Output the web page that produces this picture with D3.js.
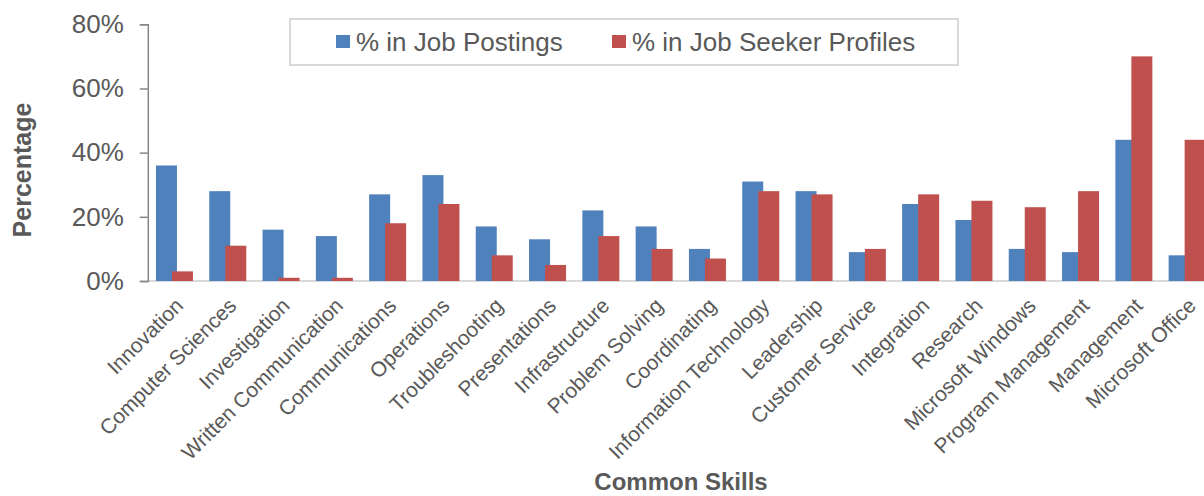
<!DOCTYPE html>
<html><head><meta charset="utf-8">
<script src="https://cdn.jsdelivr.net/npm/d3@7"></script>
<style>
html,body{margin:0;padding:0;background:#fff;}
svg{display:block;font-family:"Liberation Sans",Arial,sans-serif;}
</style></head>
<body><svg id="chart" width="1204" height="496"></svg>
<script>
const categories = ["Innovation","Computer Sciences","Investigation","Written Communication","Communications","Operations","Troubleshooting","Presentations","Infrastructure","Problem Solving","Coordinating","Information Technology","Leadership","Customer Service","Integration","Research","Microsoft Windows","Program Management","Management","Microsoft Office"];
const jobPostings = [36,28,16,14,27,33,17,13,22,17,10,31,28,9,24,19,10,9,44,8];
const jobSeekers  = [3,11,1,1,18,24,8,5,14,10,7,28,27,10,27,25,23,28,70,44];
const seriesNames = ["% in Job Postings","% in Job Seeker Profiles"];
const yTicks = [0,20,40,60,80];

const colors = ["#4F81BD","#C0504D"];
const textColor = "#595959";
const svg = d3.select("#chart");

const left = 147.8, step = 53.3;
const x = d3.scaleBand().domain(categories).range([left, left + step*categories.length]).padding(0);
const y = d3.scaleLinear().domain([0,80]).range([281,24.3]);

// baseline
svg.append("line").attr("x1",left).attr("x2",1204).attr("y1",y(0)).attr("y2",y(0))
  .attr("stroke","#D9D9D9").attr("stroke-width",2);

// bars
const barW = 21;
const g = svg.append("g");
categories.forEach((c,i)=>{
  const cx = x(c) + x.bandwidth()/2;
  g.append("rect").attr("x",cx-18.5).attr("width",barW)
    .attr("y",y(jobPostings[i])).attr("height",y(0)-y(jobPostings[i]))
    .attr("fill",colors[0]);
  g.append("rect").attr("x",cx-2.5).attr("width",barW)
    .attr("y",y(jobSeekers[i])).attr("height",y(0)-y(jobSeekers[i]))
    .attr("fill",colors[1]);
});

// y axis
const yAxis = d3.axisLeft(y).tickValues(yTicks).tickFormat(d=>d+"%").tickSize(8).tickPadding(16);
const ya = svg.append("g").attr("transform",`translate(${left},0)`).call(yAxis);
ya.select(".domain").attr("stroke","#868686").attr("stroke-width",1.5);
ya.selectAll(".tick line").attr("stroke","#868686").attr("stroke-width",1.5);
ya.selectAll(".tick text").attr("fill",textColor).attr("font-size",26)
  .attr("font-family","Liberation Sans, Arial, sans-serif");

// x labels
categories.forEach(c=>{
  const cx = x(c) + x.bandwidth()/2;
  svg.append("text").attr("transform",`translate(${cx+10},307) rotate(-45)`)
    .attr("text-anchor","end").attr("font-size",21).attr("fill",textColor).text(c);
});

// axis titles
svg.append("text").attr("transform","translate(31,170) rotate(-90)").attr("text-anchor","middle")
  .attr("font-size",25).attr("font-weight","bold").attr("fill",textColor).text("Percentage");
svg.append("text").attr("x",681).attr("y",490).attr("text-anchor","middle")
  .attr("font-size",24).attr("font-weight","bold").attr("fill",textColor).text("Common Skills");

// legend
svg.append("rect").attr("x",290).attr("y",19).attr("width",668).attr("height",46)
  .attr("fill","#fff").attr("stroke","#D9D9D9").attr("stroke-width",2);
const legX = [336,612];
seriesNames.forEach((n,i)=>{
  svg.append("rect").attr("x",legX[i]).attr("y",35).attr("width",14).attr("height",13).attr("fill",colors[i]);
  svg.append("text").attr("x",legX[i]+20).attr("y",51).attr("font-size",26).attr("fill",textColor).text(n);
});
</script></body></html>
